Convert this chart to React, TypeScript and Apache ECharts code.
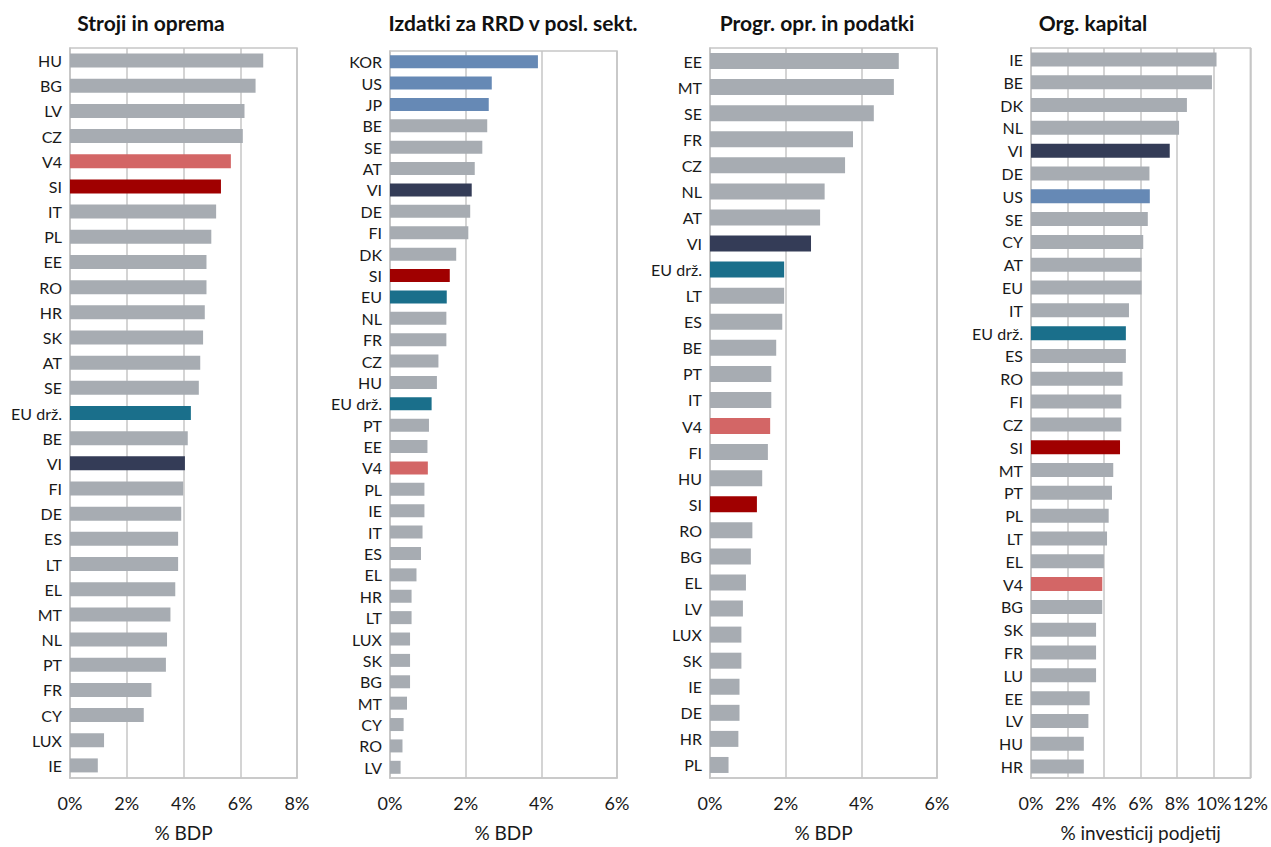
import React, { useEffect, useRef } from "react";
import * as echarts from "echarts";

// Panel 1: Stroji in oprema (% BDP)
const cats1 = ["HU", "BG", "LV", "CZ", "V4", "SI", "IT", "PL", "EE", "RO", "HR", "SK", "AT", "SE", "EU drž.", "BE", "VI", "FI", "DE", "ES", "LT", "EL", "MT", "NL", "PT", "FR", "CY", "LUX", "IE"];
const vals1 = [6.81, 6.54, 6.15, 6.09, 5.67, 5.32, 5.15, 4.98, 4.81, 4.81, 4.75, 4.69, 4.59, 4.54, 4.26, 4.15, 4.05, 3.99, 3.92, 3.81, 3.81, 3.71, 3.54, 3.42, 3.38, 2.87, 2.6, 1.2, 0.98];

// Panel 2: Izdatki za RRD v posl. sekt. (% BDP)
const cats2 = ["KOR", "US", "JP", "BE", "SE", "AT", "VI", "DE", "FI", "DK", "SI", "EU", "NL", "FR", "CZ", "HU", "EU drž.", "PT", "EE", "V4", "PL", "IE", "IT", "ES", "EL", "HR", "LT", "LUX", "SK", "BG", "MT", "CY", "RO", "LV"];
const vals2 = [3.91, 2.69, 2.61, 2.57, 2.44, 2.24, 2.16, 2.12, 2.07, 1.75, 1.58, 1.5, 1.49, 1.49, 1.28, 1.24, 1.1, 1.03, 0.99, 1.0, 0.91, 0.91, 0.86, 0.82, 0.7, 0.57, 0.57, 0.53, 0.53, 0.53, 0.45, 0.36, 0.33, 0.28];

// Panel 3: Progr. opr. in podatki (% BDP)
const cats3 = ["EE", "MT", "SE", "FR", "CZ", "NL", "AT", "VI", "EU drž.", "LT", "ES", "BE", "PT", "IT", "V4", "FI", "HU", "SI", "RO", "BG", "EL", "LV", "LUX", "SK", "IE", "DE", "HR", "PL"];
const vals3 = [4.99, 4.86, 4.33, 3.78, 3.57, 3.03, 2.91, 2.67, 1.96, 1.96, 1.91, 1.75, 1.62, 1.62, 1.59, 1.53, 1.38, 1.24, 1.12, 1.08, 0.95, 0.87, 0.83, 0.83, 0.78, 0.78, 0.75, 0.49];

// Panel 4: Org. kapital (% investicij podjetij)
const cats4 = ["IE", "BE", "DK", "NL", "VI", "DE", "US", "SE", "CY", "AT", "EU", "IT", "EU drž.", "ES", "RO", "FI", "CZ", "SI", "MT", "PT", "PL", "LT", "EL", "V4", "BG", "SK", "FR", "LU", "EE", "LV", "HU", "HR"];
const vals4 = [10.15, 9.9, 8.53, 8.1, 7.59, 6.48, 6.5, 6.39, 6.14, 6.05, 6.05, 5.36, 5.19, 5.19, 5.01, 4.94, 4.94, 4.87, 4.5, 4.43, 4.25, 4.16, 3.99, 3.9, 3.9, 3.56, 3.56, 3.56, 3.21, 3.14, 2.89, 2.89];

const titles = ["Stroji in oprema", "Izdatki za RRD v posl. sekt.", "Progr. opr. in podatki", "Org. kapital"];
const axisNames = ["% BDP", "% BDP", "% BDP", "% investicij podjetij"];
const axisMax = [8, 6, 6, 12];

// highlighted categories per panel
const highlights: Record<string, string>[] = [
  { "V4": "v4", "SI": "si", "EU drž.": "eu", "VI": "vi" },
  { "KOR": "world", "US": "world", "JP": "world", "VI": "vi", "SI": "si", "EU": "eu", "EU drž.": "eu", "V4": "v4" },
  { "VI": "vi", "EU drž.": "eu", "V4": "v4", "SI": "si" },
  { "VI": "vi", "US": "world", "EU drž.": "eu", "SI": "si", "V4": "v4" },
];

const palette: Record<string, string> = {
  gray: "#A7ACB2",
  v4: "#D36666",
  si: "#A00000",
  eu: "#1A6F8B",
  vi: "#343C57",
  world: "#6689B5",
};

const FONT = "Lato, 'Open Sans', sans-serif";

export default function App() {
  const ref = useRef<HTMLDivElement>(null);
  useEffect(() => {
    if (!ref.current) return;
    document.body.style.margin = "0";
    document.body.style.overflow = "hidden";
    const chart = echarts.init(ref.current, undefined, { renderer: "svg" });
    const cats = [cats1, cats2, cats3, cats4];
    const vals = [vals1, vals2, vals3, vals4];
    const grids = [
      { left: 70, top: 48, width: 227, height: 734 },
      { left: 390, top: 51, width: 227, height: 732 },
      { left: 710, top: 48, width: 227, height: 733 },
      { left: 1031, top: 48, width: 220, height: 732 },
    ];
    const barWidths = [14, 13, 16, 14];
    const titleX = [146, 508, 812, 1088];
    const option: any = {
      animation: false,
      backgroundColor: "#ffffff",
      textStyle: { fontFamily: FONT },
      title: titles.map((t, i) => ({
        text: t,
        left: titleX[i],
        top: 7,
        textAlign: "center",
        textStyle: { fontFamily: FONT, fontWeight: "bold", fontSize: 21, color: "#111" },
      })),
      grid: grids.map((g) => ({
        ...g,
        show: true,
        borderColor: "#C6C6C6",
        borderWidth: 1.5,
        containLabel: false,
      })),
      xAxis: grids.map((_, i) => ({
        type: "value",
        gridIndex: i,
        min: 0,
        max: axisMax[i],
        interval: 2,
        name: axisNames[i],
        nameLocation: "middle",
        nameGap: 45,
        nameTextStyle: { fontFamily: FONT, fontSize: 19, color: "#1a1a1a" },
        axisLine: { show: true, lineStyle: { color: "#C6C6C6", width: 1.5 } },
        axisTick: { show: false },
        axisLabel: { formatter: "{value}%", fontFamily: FONT, fontSize: 18, color: "#1a1a1a", margin: 16 },
        splitLine: { show: true, lineStyle: { color: "#C6C6C6", width: 1.5 } },
      })),
      yAxis: grids.map((_, i) => ({
        type: "category",
        gridIndex: i,
        inverse: true,
        data: cats[i],
        axisLine: { show: true, lineStyle: { color: "#C6C6C6", width: 1.5 } },
        axisTick: { show: false },
        axisLabel: { fontFamily: FONT, fontSize: 16, color: "#1a1a1a", margin: 8 },
      })),
      series: grids.map((_, i) => ({
        type: "bar",
        xAxisIndex: i,
        yAxisIndex: i,
        barWidth: barWidths[i],
        data: vals[i].map((v, j) => {
          const key = highlights[i][cats[i][j]];
          return { value: v, itemStyle: { color: palette[key || "gray"] } };
        }),
      })),
    };
    chart.setOption(option);
    return () => chart.dispose();
  }, []);
  return (
    <div
      ref={ref}
      style={{ position: "absolute", left: 0, top: 0, width: 1271, height: 847, overflow: "hidden", background: "#fff" }}
    />
  );
}
